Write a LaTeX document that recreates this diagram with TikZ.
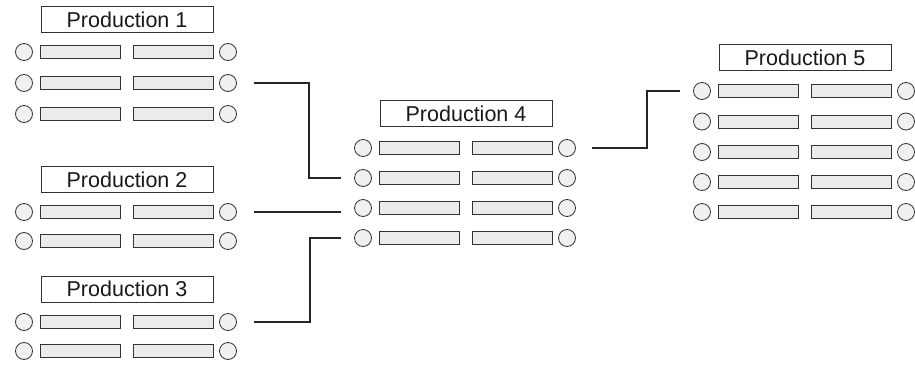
\documentclass[tikz,border=0pt]{standalone}
\usepackage{fontspec}
\setmainfont{Liberation Sans}
\tikzset{
  bar/.style={draw=black!80, fill=black!8, line width=0.8pt, minimum width=80pt, minimum height=13pt, inner sep=0pt},
  port/.style={circle, draw=black!80, fill=black!6, line width=0.8pt, minimum size=17pt, inner sep=0pt},
  titlebox/.style={draw=black!80, fill=white, line width=0.8pt, minimum width=172pt, minimum height=26pt, inner sep=0pt, text=black!90, font=\fontsize{21.5}{21.5}\selectfont},
  wire/.style={line width=1.4pt, draw=black!85}
}
\newcommand{\prodblock}[5]{%
  \node[titlebox] (#1t) at (#3+103,#4) {#2};
  \foreach \i/\yy in {#5} {
    \node[port] (#1l\i) at (#3,\yy) {};
    \node[bar] (#1a\i) at (#3+56,\yy) {};
    \node[bar] (#1b\i) at (#3+149.5,\yy) {};
    \node[port] (#1r\i) at (#3+204,\yy) {};
  }%
}
\begin{document}
\begin{tikzpicture}[x=1pt,y=-1pt]
  \useasboundingbox (0,0) rectangle (915,372);
  \prodblock{pa}{Production 1}{24}{19.5}{1/52,2/83,3/114}
  \prodblock{pb}{Production 2}{24}{179.5}{1/212,2/241}
  \prodblock{pc}{Production 3}{24}{289}{1/322,2/351}
  \prodblock{pd}{Production 4}{363}{113.5}{1/148,2/178,3/208,4/238}
  \prodblock{pe}{Production 5}{702}{57.5}{1/91,2/121.5,3/152,4/182,5/212}
  \draw[wire] ([xshift=17pt]par2.east) -- ++(55,0) |- ([xshift=-13pt]pdl2.west);
  \draw[wire] ([xshift=17pt]pbr1.east) -- ([xshift=-13pt]pdl3.west |- pbr1.east);
  \draw[wire] ([xshift=17pt]pcr1.east) -- ++(56,0) |- ([xshift=-13pt]pdl4.west);
  \draw[wire] ([xshift=16pt]pdr1.east) -- ++(55,0) |- ([xshift=-13pt]pel1.west);
\end{tikzpicture}
\end{document}
